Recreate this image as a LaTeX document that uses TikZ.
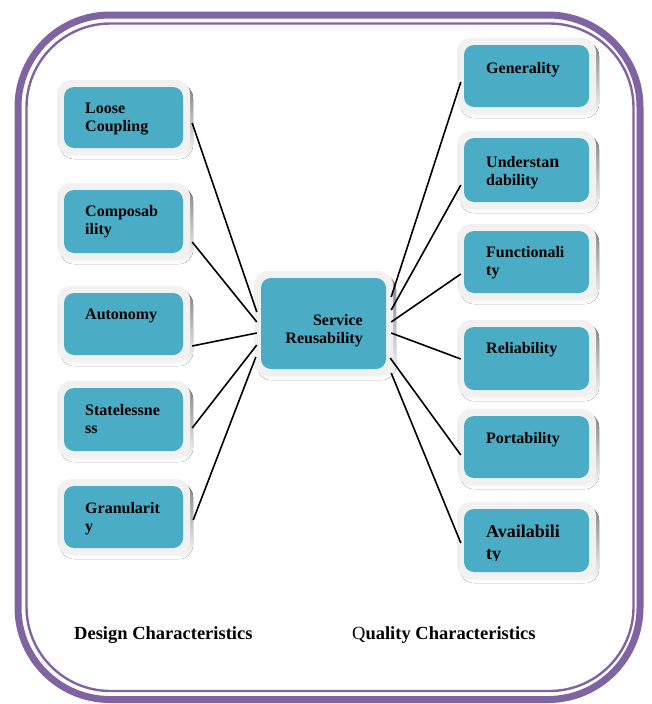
\documentclass[tikz,border=0pt]{standalone}
\usepackage{fontspec}
\setmainfont{Liberation Serif}
\usetikzlibrary{calc}

\definecolor{frame}{HTML}{8064A2}
\definecolor{aqua}{HTML}{4BACC6}
\definecolor{halo}{HTML}{F1F1F1}
\definecolor{shade}{HTML}{98B3BC}

\tikzset{
  halobox/.style={fill=halo, draw=none, rounded corners=14pt, inner sep=0pt},
  link/.style={draw=black, line width=1.6pt},
  boxtext/.style={inner sep=0pt, anchor=base west,
    font=\fontsize{16}{18.5}\selectfont\bfseries},
  caption/.style={inner sep=0pt, anchor=base west,
    font=\fontsize{18.5}{22}\selectfont\bfseries},
}

% #1 name, #2 left, #3 top, #4 right, #5 bottom of the aqua panel
\newcommand\card[5]{%
  \fill[shade, rounded corners=14pt] (#2-4,#3-3) rectangle (#4+10,#5+11);
  \node[halobox, minimum width={(#4)-(#2)+14}, minimum height={(#5)-(#3)+14}]
    (#1) at ({(#2+#4)/2},{(#3+#5)/2}) {};
  \fill[aqua, rounded corners=10pt] (#2,#3) rectangle (#4,#5);
}

\begin{document}
\begin{tikzpicture}[x=1pt, y=-1pt]
\useasboundingbox (0,0) rectangle (652,704);

% outer double frame
\draw[frame, line width=7pt, rounded corners=92pt] (18,15) rectangle (640,699.5);
\draw[frame, line width=2.4pt, rounded corners=84pt] (26.5,23.5) rectangle (633.5,691);

% design characteristics
\card{lc}{64}{87}{183}{148}
\card{co}{64}{190}{183}{253}
\card{au}{64}{293}{183}{355}
\card{st}{64}{388}{183}{451}
\card{gr}{64}{486}{183}{548}

% central concept
\card{sr}{261}{278}{386}{369}

% quality characteristics
\card{ge}{464}{45}{589}{107}
\card{un}{464}{138}{589}{202}
\card{fu}{464}{231}{589}{293}
\card{re}{464}{327}{589}{390}
\card{po}{464}{416}{589}{478}
\card{av}{464}{509}{589}{572}

% connectors to the central concept
\draw[link] ($(lc.east)+(2,5.5)$)  -- ($(sr.west)+(3,-11.5)$);
\draw[link] ($(co.east)+(2,20.5)$) -- ($(sr.west)+(3,-1.5)$);
\draw[link] ($(au.east)+(2,22)$)   -- ($(sr.west)+(3,9.5)$);
\draw[link] ($(st.east)+(2,8.5)$)  -- ($(sr.west)+(3,21.5)$);
\draw[link] ($(gr.east)+(3,3)$)    -- ($(sr.west)+(2,33.5)$);

\draw[link] ($(sr.east)+(-2,-26.5)$) -- ($(ge.west)+(4,6)$);
\draw[link] ($(sr.east)+(-2,-13.5)$) -- ($(un.west)+(4,15)$);
\draw[link] ($(sr.east)+(-2,-1.5)$)  -- ($(fu.west)+(4,12)$);
\draw[link] ($(sr.east)+(-2,9.5)$)   -- ($(re.west)+(4,0.5)$);
\draw[link] ($(sr.east)+(-3,34.5)$)  -- ($(po.west)+(4,8)$);
\draw[link] ($(sr.east)+(-2,49.5)$)  -- ($(av.west)+(4,2.5)$);

% labels
\node[boxtext] (lct) at (85,113) {\begin{tabular}[t]{@{}l@{}}Loose\\Coupling\end{tabular}};
\node[boxtext] (cot) at (85,216) {\begin{tabular}[t]{@{}l@{}}Composab\\ility\end{tabular}};
\node[boxtext] (aut) at (85,319) {Autonomy};
\node[boxtext] (stt) at (85,415) {\begin{tabular}[t]{@{}l@{}}Statelessne\\ss\end{tabular}};
\node[boxtext] (grt) at (85,513) {\begin{tabular}[t]{@{}l@{}}Granularit\\y\end{tabular}};

\node[boxtext, anchor=base east] (srt) at (363,325)
  {\begin{tabular}[t]{@{}r@{}}Service\\Reusability\end{tabular}};

\node[boxtext] (get) at (486,73) {Generali{\fontsize{17}{18.5}\selectfont ty}};
\node[boxtext] (unt) at (486,167)
  {\begin{tabular}[t]{@{}l@{}}Understa{\fontsize{18}{18.5}\selectfont n}\\dability\end{tabular}};
\node[boxtext] (fut) at (486,257) {\begin{tabular}[t]{@{}l@{}}Functionali\\ty\end{tabular}};
\node[boxtext] (ret) at (486,353) {Reliability};
\node[boxtext] (pot) at (486,443) {Portability};
\begin{scope}
  \clip (464,509) rectangle (589,560);
  \node[boxtext, font=\fontsize{18}{22}\selectfont\bfseries] (avt) at (486,537)
    {\begin{tabular}[t]{@{}l@{}}Availabili\\ty\end{tabular}};
\end{scope}

\node[caption] (dct) at (74,639) {Design Characteristics};
\node[caption] (qct) at (352,639) {{\mdseries Q}uality Characteristics};
\end{tikzpicture}
\end{document}
